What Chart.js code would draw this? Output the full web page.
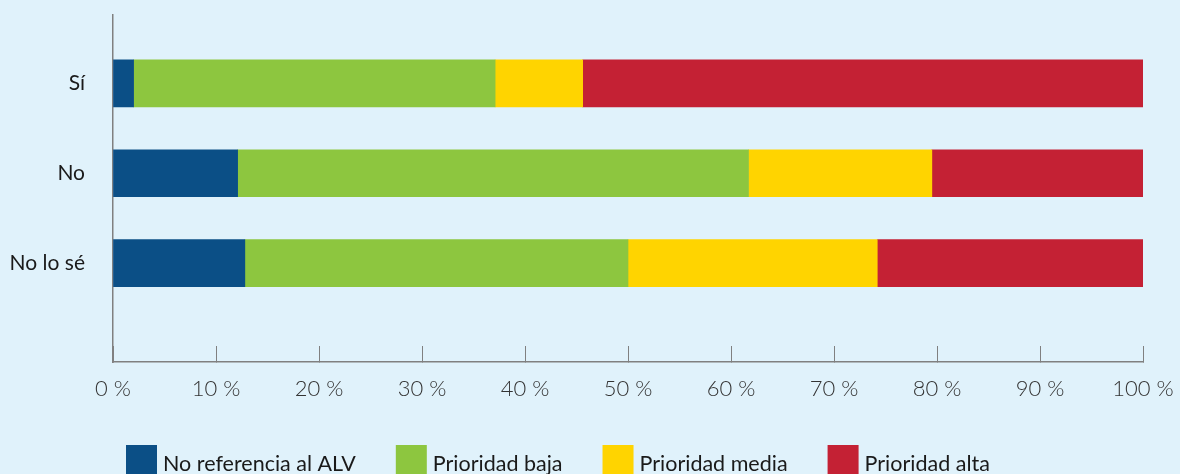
<!DOCTYPE html>
<html>
<head>
<meta charset="utf-8">
<script src="https://cdn.jsdelivr.net/npm/chart.js@4"></script>
<style>
  body { margin: 0; background: #e0f2fb; }
  #wrap { width: 1180px; height: 474px; position: relative; }
</style>
</head>
<body>
<div id="wrap"><canvas id="chart"></canvas></div>
<script>
'use strict';

// answers and share (%) of each priority level
const categories = ['Sí', 'No', 'No lo sé'];
const noReferencia = [2.0, 12.1, 12.8];
const prioridadBaja = [35.1, 49.6, 37.2];
const prioridadMedia = [8.5, 17.8, 24.2];
const prioridadAlta = [54.4, 20.5, 25.8];
const seriesNames = ['No referencia al ALV', 'Prioridad baja', 'Prioridad media', 'Prioridad alta'];
const seriesColors = ['#0b4f86', '#8dc63f', '#ffd400', '#c42134'];

let canvasElem = document.getElementById('chart');

// rows sit at 1, 2, 3 on a linear y scale so the axis can run past them
function rows(values) {
  return values.map((v, i) => ({ x: v, y: i + 1 }));
}

// legend drawn under the axis, left aligned
const bottomLegend = {
  id: 'bottomLegend',
  afterDraw(chart) {
    const ctx = chart.ctx;
    ctx.save();
    ctx.font = '21.5px Lato';
    ctx.textBaseline = 'alphabetic';
    let x = 126;
    chart.data.datasets.forEach(ds => {
      ctx.fillStyle = ds.backgroundColor;
      ctx.fillRect(x, 445, 31, 31);
      ctx.fillStyle = '#1a1a1a';
      ctx.fillText(ds.label, x + 37, 471);
      x += 37 + ctx.measureText(ds.label).width + 40;
    });
    ctx.restore();
  }
};

function renderChart() {
  const allSeries = [noReferencia, prioridadBaja, prioridadMedia, prioridadAlta];
  const datasets = allSeries.map((values, i) => ({
    label: seriesNames[i],
    data: rows(values),
    backgroundColor: seriesColors[i],
    borderWidth: 0,
    barThickness: 47
  }));

  new Chart(canvasElem, {
    type: 'bar',
    data: { datasets: datasets },
    options: {
      indexAxis: 'y',
      responsive: true,
      maintainAspectRatio: false,
      animation: false,
      layout: { padding: { top: 15, left: 0, right: 37, bottom: 72 } },
      plugins: {
        legend: { display: false },
        tooltip: { enabled: false }
      },
      scales: {
        x: {
          type: 'linear',
          stacked: true,
          min: 0,
          max: 100,
          afterFit: scale => {
            scale.height = 40;
            scale.paddingLeft = 0;
            scale.paddingRight = 0;
          },
          ticks: {
            stepSize: 10,
            padding: 30,
            color: '#333',
            font: { family: 'Lato', size: 22, weight: 300 },
            callback: v => v + ' %'
          },
          grid: {
            drawOnChartArea: false,
            tickLength: -16,
            color: '#808080',
            lineWidth: 1
          },
          border: { color: '#808080', width: 1.5 }
        },
        y: {
          type: 'linear',
          stacked: true,
          reverse: true,
          offset: false,
          min: 0.24,
          max: 4.1,
          afterBuildTicks: scale => {
            scale.ticks = categories.map((c, i) => ({ value: i + 1 }));
          },
          afterFit: scale => {
            scale.width = 113;
            scale.paddingTop = 0;
            scale.paddingBottom = 0;
          },
          ticks: {
            padding: 28,
            color: '#1a1a1a',
            font: { family: 'Lato', size: 21 },
            callback: v => categories[v - 1]
          },
          grid: { display: false, drawTicks: false },
          border: { color: '#808080', width: 1.5 }
        }
      }
    },
    plugins: [bottomLegend]
  });
}

renderChart();
</script>
</body>
</html>
